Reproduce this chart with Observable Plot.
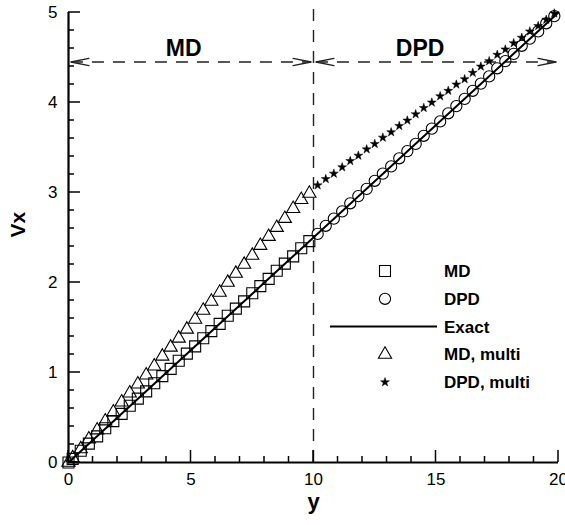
<!DOCTYPE html>
<html><head><meta charset="utf-8">
<script src="https://cdn.jsdelivr.net/npm/d3@7"></script>
<script src="https://cdn.jsdelivr.net/npm/@observablehq/plot@0.6"></script>
<style>
html,body{margin:0;padding:0;background:#fff;overflow:hidden}
#chart{position:relative;width:565px;height:525px}
</style></head><body><div id="chart"></div>
<script>
// ---- data ----
const mdX = [0, 0.17, 0.5, 0.83, 1.17, 1.5, 1.83, 2.17, 2.5, 2.83, 3.17, 3.5, 3.83, 4.17, 4.5, 4.83, 5.17, 5.5, 5.83, 6.17, 6.5, 6.83, 7.17, 7.5, 7.83, 8.17, 8.5, 8.83, 9.17, 9.5, 9.83];
const mdY = [0, 0.04, 0.13, 0.21, 0.29, 0.38, 0.46, 0.54, 0.63, 0.71, 0.79, 0.88, 0.96, 1.04, 1.13, 1.21, 1.29, 1.38, 1.46, 1.54, 1.63, 1.71, 1.79, 1.88, 1.96, 2.04, 2.13, 2.21, 2.29, 2.38, 2.46];
const dpdX = [10.17, 10.5, 10.83, 11.17, 11.5, 11.83, 12.17, 12.5, 12.83, 13.17, 13.5, 13.83, 14.17, 14.5, 14.83, 15.17, 15.5, 15.83, 16.17, 16.5, 16.83, 17.17, 17.5, 17.83, 18.17, 18.5, 18.83, 19.17, 19.5, 19.83];
const dpdY = [2.54, 2.63, 2.71, 2.79, 2.88, 2.96, 3.04, 3.13, 3.21, 3.29, 3.38, 3.46, 3.54, 3.63, 3.71, 3.79, 3.88, 3.96, 4.04, 4.13, 4.21, 4.29, 4.38, 4.46, 4.54, 4.63, 4.71, 4.79, 4.88, 4.96];
const exactX = [0, 20];
const exactY = [0, 5];
const mdMultiX = [0, 0.17, 0.5, 0.83, 1.17, 1.5, 1.83, 2.17, 2.5, 2.83, 3.17, 3.5, 3.83, 4.17, 4.5, 4.83, 5.17, 5.5, 5.83, 6.17, 6.5, 6.83, 7.17, 7.5, 7.83, 8.17, 8.5, 8.83, 9.17, 9.5, 9.83];
const mdMultiY = [0, 0.05, 0.15, 0.26, 0.36, 0.46, 0.56, 0.67, 0.77, 0.87, 0.97, 1.07, 1.18, 1.28, 1.38, 1.48, 1.59, 1.69, 1.79, 1.89, 2.0, 2.1, 2.2, 2.3, 2.41, 2.51, 2.61, 2.71, 2.82, 2.92, 2.99];
const dpdMultiX = [10.17, 10.5, 10.83, 11.17, 11.5, 11.83, 12.17, 12.5, 12.83, 13.17, 13.5, 13.83, 14.17, 14.5, 14.83, 15.17, 15.5, 15.83, 16.17, 16.5, 16.83, 17.17, 17.5, 17.83, 18.17, 18.5, 18.83, 19.17, 19.5, 19.83];
const dpdMultiY = [3.08, 3.15, 3.21, 3.28, 3.35, 3.41, 3.48, 3.54, 3.61, 3.67, 3.74, 3.80, 3.87, 3.94, 4.00, 4.07, 4.13, 4.20, 4.26, 4.33, 4.40, 4.46, 4.53, 4.59, 4.66, 4.72, 4.79, 4.85, 4.92, 4.99];

const xMajorTicks = [0, 5, 10, 15, 20];
const xMinorTicks = [1, 2, 3, 4, 6, 7, 8, 9, 11, 12, 13, 14, 16, 17, 18, 19];
const yMajorTicks = [0, 1, 2, 3, 4, 5];
const yMinorTicks = [0.2, 0.4, 0.6, 0.8, 1.2, 1.4, 1.6, 1.8, 2.2, 2.4, 2.6, 2.8, 3.2, 3.4, 3.6, 3.8, 4.2, 4.4, 4.6, 4.8];

const dividerX = [10];
const regionLabels = ["MD", "DPD"];
const regionLabelX = [4.7, 14.35];
const regionLabelY = 4.52;
const regionArrowY = 4.45;
const regionSegX1 = [0.1, 10.1];
const regionSegX2 = [9.9, 19.9];
const arrowTipX = [0.1, 9.9, 10.1, 19.9];
const arrowTipDir = [-90, 90, -90, 90];

const legendLabels = ["MD", "DPD", "Exact", "MD, multi", "DPD, multi"];
const legendSymbols = ["square", "circle", "line", "triangle", "star"];
const xLabel = "y";
const yLabel = "Vx";

// ---- build tables ----
const zip = (xs, ys) => xs.map((x, i) => ({x, y: ys[i]}));
const md = zip(mdX, mdY), dpd = zip(dpdX, dpdY), exact = zip(exactX, exactY);
const mdMulti = zip(mdMultiX, mdMultiY), dpdMulti = zip(dpdMultiX, dpdMultiY);
const segs = regionSegX1.map((x1, i) => ({x1, x2: regionSegX2[i]}));
const tips = arrowTipX.map((x, i) => ({x, dir: arrowTipDir[i]}));
const labels = regionLabels.map((t, i) => ({t, x: regionLabelX[i]}));

const W = 565, H = 525, ML = 68, MR = 7, MT = 12, MB = 63;
const FONT = "'Liberation Sans', Arial, Helvetica, sans-serif";
const chevron = {draw(ctx, l, r) { ctx.moveTo(-r, 0); ctx.lineTo(0, -l); ctx.lineTo(r, 0); }};

const plot = Plot.plot({
  width: W, height: H,
  marginLeft: ML, marginRight: MR, marginTop: MT, marginBottom: MB,
  style: {fontFamily: FONT, color: "#000", background: "#fff", overflow: "visible"},
  x: {domain: [0, 20]},
  y: {domain: [0, 5]},
  marks: [
    // tick labels
    Plot.axisX({ticks: xMajorTicks, tickSize: 0, tickPadding: 10, tickFormat: "d", fontSize: 17, label: null}),
    Plot.axisY({ticks: yMajorTicks, tickSize: 0, tickPadding: 11, tickFormat: "d", fontSize: 17, label: null}),
    Plot.ruleX([0], {strokeWidth: 2.2}),
    Plot.ruleY([0], {strokeWidth: 2.2}),
    Plot.ruleX(dividerX, {y1: 0, y2: 5.08, strokeDasharray: "12,9", strokeWidth: 1.4, stroke: "#222", clip: false}),
    Plot.link(segs, {x1: "x1", x2: "x2", y1: regionArrowY, y2: regionArrowY, strokeDasharray: "12,9", strokeWidth: 1.4, stroke: "#222"}),
    Plot.vector(tips, {x: "x", y: regionArrowY, rotate: "dir", length: 18, r: 3.6, anchor: "end", shape: chevron, stroke: "#222", strokeWidth: 1.3}),
    Plot.text(labels, {x: "x", y: regionLabelY, text: "t", lineAnchor: "bottom", fontSize: 23, fontWeight: "bold"}),
    Plot.line(exact, {x: "x", y: "y", stroke: "#000", strokeWidth: 2}),
    Plot.dot(md, {x: "x", y: "y", symbol: "square", r: 6.2, stroke: "#000", strokeWidth: 1.1, fill: "none"}),
    Plot.dot(dpd, {x: "x", y: "y", symbol: "circle", r: 5.6, stroke: "#000", strokeWidth: 1.1, fill: "none"}),
    Plot.dot(mdMulti, {x: "x", y: "y", symbol: "triangle", r: 4.9, stroke: "#000", strokeWidth: 1.1, fill: "none"}),
    Plot.dot(dpdMulti, {x: "x", y: "y", symbol: "star", r: 2.8, fill: "#000", stroke: "#000", strokeWidth: 0.5}),
    Plot.text([xLabel], {frameAnchor: "bottom", text: d => d, dy: 46, fontSize: 22, fontWeight: "bold"}),
    Plot.text([yLabel], {frameAnchor: "left", text: d => d, dx: -50, rotate: -90, fontSize: 21, fontWeight: "bold"})
  ]
});
document.getElementById("chart").appendChild(plot);

const svg = d3.select(plot);
const sx = plot.scale("x"), sy = plot.scale("y");
const x0 = sx.apply(0), y0 = sy.apply(0);

// ---- inward tick marks, placed through the plot's own scales ----
const tg = svg.append("g").attr("stroke", "#000").attr("stroke-width", 1.5);
const tickSets = [[xMinorTicks, 6, "x"], [xMajorTicks, 12, "x"], [yMinorTicks, 6, "y"], [yMajorTicks, 12, "y"]];
tickSets.forEach(([vals, len, axis]) => {
  vals.forEach(v => {
    if (axis === "x") {
      const px = sx.apply(v);
      tg.append("line").attr("x1", px).attr("x2", px).attr("y1", y0).attr("y2", y0 - len);
    } else {
      const py = sy.apply(v);
      tg.append("line").attr("x1", x0).attr("x2", x0 + len).attr("y1", py).attr("y2", py);
    }
  });
});

// ---- legend (inside the plot area, lower right) ----
const lg = svg.append("g").attr("font-family", FONT).attr("font-size", 17).attr("font-weight", "bold").attr("text-anchor", "start");
const symMap = {square: d3.symbolSquare, circle: d3.symbolCircle, triangle: d3.symbolTriangle, star: d3.symbolStar};
const symR = {square: 6.2, circle: 5.6, triangle: 4.9, star: 2.8};
legendLabels.forEach((lab, i) => {
  const g = lg.append("g").attr("transform", `translate(385,${271 + i * 27.8})`);
  const s = legendSymbols[i];
  if (s === "line") {
    g.append("line").attr("x1", -55).attr("x2", 52).attr("y1", 0).attr("y2", 0).attr("stroke", "#000").attr("stroke-width", 2);
  } else {
    const path = d3.symbol(symMap[s], Math.PI * symR[s] * symR[s])();
    g.append("path").attr("d", path)
      .attr("fill", s === "star" ? "#000" : "none")
      .attr("stroke", "#000")
      .attr("stroke-width", s === "star" ? 0.5 : 1.1);
  }
  g.append("text").attr("x", 59).attr("y", 6).attr("text-anchor", "start").text(lab);
});
</script>
</body></html>
